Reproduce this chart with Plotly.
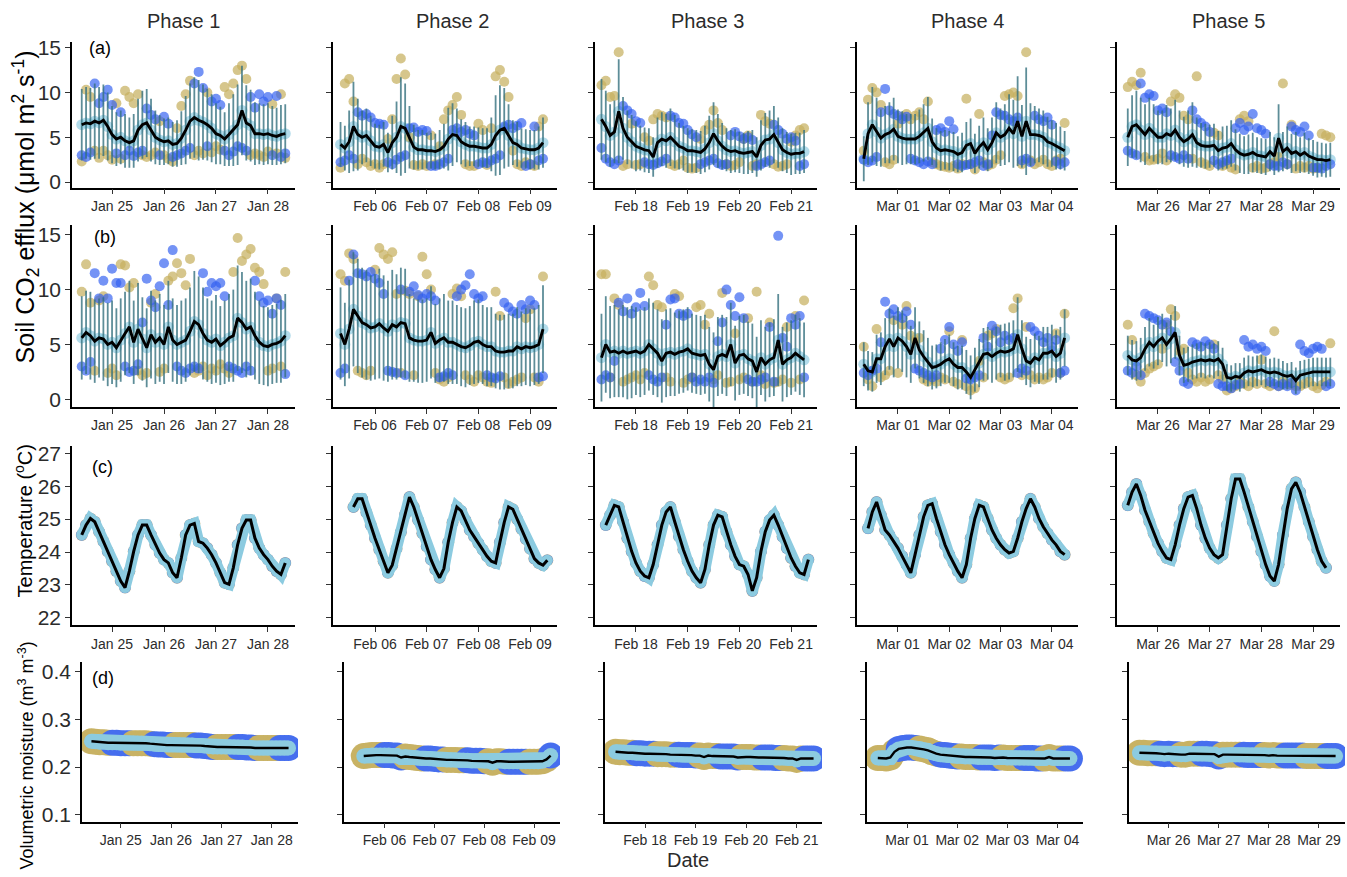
import pandas as pd
import plotly.graph_objects as go

W, H = 1347, 877

PHASE_TITLES = ["Phase 1", "Phase 2", "Phase 3", "Phase 4", "Phase 5"]
PANEL_TAGS = ["(a)", "(b)", "(c)", "(d)"]

# first timestamp of each 2-hourly series, per phase
FLUX_START = ["2019-01-24 10:00", "2019-02-05 08:00", "2019-02-17 08:00",
              "2019-02-28 08:00", "2019-03-25 10:00"]
TEMP_START = ["2019-01-24 10:00", "2019-02-05 14:00", "2019-02-17 10:00",
              "2019-02-28 10:00", "2019-03-25 10:00"]
MOIST_START = ["2019-01-24 10:00", "2019-02-05 14:00", "2019-02-17 10:00",
               "2019-02-28 10:00", "2019-03-25 10:00"]
X_RANGES = [["2019-01-24 05:30", "2019-01-28 12:30"],
            ["2019-02-05 04:30", "2019-02-09 12:30"],
            ["2019-02-17 05:00", "2019-02-21 12:00"],
            ["2019-02-28 04:50", "2019-03-04 12:15"],
            ["2019-03-25 05:00", "2019-03-29 12:30"]]

# ---- (a) soil CO2 efflux, first set of chambers ----
FLUX_A_MEAN = [
    [6.4, 6.6, 6.5, 6.8, 6.6, 6.9, 6.2, 5.3, 4.8, 5.0, 4.6, 4.4, 4.6, 5.8, 6.4, 6.6, 5.8, 5.0, 4.7, 4.5,
     4.6, 4.2, 4.3, 4.9, 5.8, 6.8, 7.2, 6.9, 6.7, 6.4, 6.0, 5.4, 5.2, 4.8, 5.3, 5.8, 6.4, 8.0, 6.6, 6.3,
     5.4, 5.4, 5.3, 5.4, 5.2, 5.1, 5.3, 5.4],
    [4.2, 3.8, 4.5, 6.2, 5.3, 5.0, 5.2, 4.6, 4.0, 3.9, 4.2, 3.3, 4.4, 5.0, 6.2, 6.0, 5.0, 3.9, 3.6, 3.6,
     3.5, 3.5, 3.4, 3.6, 4.0, 4.8, 5.3, 5.2, 4.5, 4.2, 4.0, 4.0, 3.9, 3.8, 3.8, 4.2, 5.2, 5.8, 6.0, 5.2,
     4.4, 4.2, 3.8, 3.7, 3.6, 3.6, 3.8, 4.4],
    [7.0, 6.2, 5.2, 5.6, 7.9, 6.0, 5.0, 4.5, 4.0, 3.8, 3.6, 3.5, 2.8, 4.4, 4.8, 4.6, 5.0, 4.5, 4.0, 3.8,
     3.5, 3.5, 3.4, 3.3, 3.7, 4.4, 5.4, 4.6, 4.0, 3.6, 3.4, 3.5, 3.3, 3.2, 3.3, 3.4, 2.8, 4.1, 4.7, 4.8,
     5.3, 4.4, 3.6, 3.3, 3.1, 3.2, 3.2, 3.4],
    [2.6, 5.4, 6.4, 5.6, 4.9, 5.3, 5.5, 5.9, 5.1, 4.9, 4.8, 4.8, 4.8, 5.1, 5.5, 6.0, 4.5, 3.8, 3.5, 3.6,
     3.5, 3.4, 3.1, 3.3, 4.1, 4.3, 3.2, 3.9, 4.4, 3.6, 4.4, 5.5, 5.0, 5.3, 6.0, 5.4, 6.8, 5.1, 6.8, 5.3,
     5.3, 5.2, 5.0, 4.5, 4.3, 4.0, 3.8, 3.5],
    [5.0, 6.2, 6.4, 5.8, 5.3, 6.0, 5.5, 5.0, 5.0, 5.4, 5.2, 5.8, 5.0, 4.5, 4.8, 5.3, 4.4, 4.1, 4.0, 4.0,
     4.1, 3.5, 3.8, 3.9, 4.3, 3.6, 3.2, 3.0, 3.1, 3.3, 3.0, 2.9, 2.8, 3.4, 2.9, 4.9, 3.4, 3.8, 3.2, 3.4,
     3.0, 3.3, 2.9, 2.7, 2.5, 2.5, 2.4, 2.5],
]
FLUX_A_SD = [
    [4.0, 4.0, 4.0, 4.2, 4.0, 4.0, 3.8, 3.2, 3.0, 3.0, 3.0, 2.8, 3.0, 3.5, 3.8, 3.8, 3.5, 3.0, 2.8, 2.6,
     2.6, 2.5, 2.6, 3.0, 3.8, 4.2, 4.5, 4.5, 4.2, 4.0, 3.8, 3.4, 3.2, 3.0, 3.5, 4.0, 4.5, 5.0, 4.2, 4.0,
     3.5, 3.4, 3.4, 3.4, 3.3, 3.2, 3.3, 3.3],
    [2.5, 2.5, 3.5, 5.0, 4.0, 3.0, 3.0, 2.8, 2.5, 2.5, 2.5, 2.2, 3.0, 4.0, 5.5, 5.0, 3.5, 2.5, 2.2, 2.2,
     2.0, 2.0, 2.0, 2.2, 2.5, 3.5, 3.5, 3.0, 2.5, 2.5, 2.2, 2.2, 2.2, 2.2, 2.2, 3.0, 4.5, 5.0, 4.5, 3.5,
     2.5, 2.5, 2.2, 2.2, 2.2, 2.2, 2.4, 2.8],
    [4.5, 4.0, 3.5, 3.5, 5.8, 3.5, 3.0, 3.0, 2.8, 2.5, 2.5, 2.5, 2.2, 2.8, 3.0, 3.0, 3.2, 3.0, 2.6, 2.5,
     2.5, 2.4, 2.4, 2.4, 2.6, 3.0, 3.5, 3.0, 2.6, 2.4, 2.4, 2.4, 2.3, 2.3, 2.4, 2.4, 2.2, 2.8, 3.0, 3.2,
     3.2, 2.8, 2.4, 2.3, 2.3, 2.3, 2.3, 2.4],
    [2.5, 3.5, 4.2, 3.8, 3.2, 3.2, 3.4, 3.5, 3.0, 3.0, 2.8, 2.8, 2.8, 3.0, 3.2, 3.5, 2.6, 2.2, 2.2, 2.2,
     2.2, 2.2, 2.0, 2.2, 2.6, 2.8, 2.2, 2.4, 2.8, 2.4, 2.8, 3.4, 3.2, 3.4, 3.8, 3.8, 5.0, 3.5, 6.0, 3.5,
     3.2, 3.0, 3.0, 2.8, 2.6, 2.6, 2.4, 2.2],
    [3.2, 3.5, 3.8, 3.6, 3.4, 3.4, 3.2, 3.0, 3.0, 3.2, 3.0, 3.4, 3.0, 2.8, 3.2, 3.6, 2.8, 2.5, 2.5, 2.4,
     2.4, 2.2, 2.4, 2.4, 2.6, 2.3, 2.2, 2.1, 2.2, 2.2, 2.0, 2.0, 2.0, 2.2, 2.1, 3.8, 2.2, 2.4, 2.2, 2.2,
     2.0, 2.2, 2.0, 2.0, 2.0, 1.9, 1.9, 1.9],
]
FLUX_A_BLUE = [
    [3.0, 2.8, 3.3, 11.0, 8.8, 9.5, 10.3, 8.6, 3.2, 7.8, 3.0, 3.5, 2.9, 3.3, 3.5, 8.2, 7.5, 7.0, 3.0, 7.3,
     6.5, 2.8, 3.0, 3.2, 3.5, 3.8, 11.0, 12.3, 10.5, 4.0, 9.0, 9.3, 8.6, 3.5, 3.0, 3.4, 4.0, 3.8, 3.5, 9.5,
     8.3, 9.8, 9.0, 9.5, 3.0, 9.6, 2.8, 3.2],
    [2.2, 2.4, 3.0, 2.6, 7.8, 7.4, 7.6, 7.2, 6.6, 6.5, 6.4, 2.2, 2.0, 2.5, 2.8, 3.0, 6.0, 6.1, 5.6, 5.8,
     5.7, 1.8, 1.8, 2.0, 2.2, 2.6, 5.8, 6.0, 5.6, 5.8, 5.4, 5.2, 2.0, 2.2, 2.1, 2.4, 2.6, 3.0, 6.2, 6.4,
     6.0, 6.3, 6.6, 1.8, 2.0, 6.2, 2.4, 2.6],
    [3.8, 2.6, 2.2, 2.0, 2.4, 8.5, 8.0, 7.6, 6.8, 6.6, 2.2, 2.0, 1.9, 2.1, 2.3, 2.6, 7.4, 7.2, 6.6, 6.5,
     5.8, 5.3, 5.0, 2.0, 2.2, 2.4, 2.6, 2.1, 1.9, 2.0, 5.2, 5.6, 5.1, 4.8, 5.0, 4.7, 1.8, 2.0, 2.2, 2.4,
     6.4, 5.8, 5.4, 4.8, 5.0, 4.6, 1.8, 2.0],
    [2.5, 2.2, 2.4, 2.8, 7.8, 10.4, 8.0, 7.6, 7.4, 7.0, 7.3, 2.6, 2.4, 2.2, 2.0, 2.3, 2.0, 5.8, 6.0, 5.6,
     6.8, 5.9, 2.0, 1.8, 1.9, 2.0, 2.2, 2.4, 1.8, 2.0, 5.2, 7.8, 7.5, 7.4, 7.0, 6.8, 7.2, 2.4, 2.6, 2.2,
     7.4, 7.0, 6.8, 7.2, 6.4, 2.3, 2.0, 2.2],
    [3.5, 3.2, 3.0, 11.0, 9.4, 9.8, 9.6, 8.0, 8.2, 7.8, 3.0, 2.8, 2.6, 3.0, 2.6, 8.0, 7.0, 6.6, 6.2, 5.6,
     2.4, 2.0, 2.2, 2.4, 2.6, 6.0, 6.6, 5.8, 6.2, 7.6, 6.0, 5.8, 5.4, 2.0, 1.8, 1.8, 2.2, 2.0, 6.2, 5.8,
     5.6, 6.2, 5.2, 1.6, 1.6, 1.5, 1.8, 2.0],
]
FLUX_A_TAN = [
    [2.3, 10.3, 9.5, 3.5, 2.7, 3.5, 3.0, 2.5, 8.8, 2.6, 10.2, 9.5, 8.8, 9.8, 3.0, 2.8, 3.0, 3.3, 6.8, 3.0,
     2.6, 2.3, 6.0, 8.5, 9.8, 11.3, 3.0, 3.5, 3.2, 10.0, 3.3, 4.0, 3.6, 10.6, 9.8, 11.0, 12.5, 13.0, 11.5, 3.0,
     3.2, 3.0, 2.8, 3.4, 8.7, 3.2, 9.8, 2.7],
    [1.6, 11.0, 11.5, 9.0, 2.0, 2.6, 2.2, 1.8, 2.0, 1.6, 2.0, 4.8, 7.0, 11.5, 13.8, 12.0, 5.0, 1.9, 1.8, 2.0,
     1.8, 5.2, 2.0, 4.0, 7.0, 8.0, 8.6, 9.5, 7.5, 2.0, 1.8, 1.8, 6.5, 5.8, 1.9, 6.0, 11.8, 12.5, 11.2, 9.5,
     3.5, 2.0, 1.8, 2.2, 2.0, 1.8, 6.2, 7.0],
    [10.8, 11.3, 9.5, 9.6, 14.5, 1.8, 2.0, 6.5, 1.9, 2.0, 5.0, 4.6, 7.0, 7.6, 7.4, 7.2, 2.0, 1.8, 2.0, 2.4,
     1.6, 1.5, 1.6, 4.8, 5.8, 6.4, 8.0, 6.6, 5.8, 2.0, 1.8, 1.9, 2.2, 4.8, 5.2, 1.8, 2.0, 7.5, 6.8, 6.5,
     2.0, 1.7, 1.8, 2.0, 4.5, 5.2, 5.8, 6.0],
    [3.5, 9.2, 10.5, 10.0, 8.6, 2.2, 2.0, 2.5, 6.5, 7.3, 7.6, 7.0, 7.4, 7.8, 7.0, 9.0, 2.2, 2.0, 1.8, 1.7,
     1.6, 1.8, 1.5, 2.0, 9.3, 2.0, 1.4, 7.6, 2.2, 1.8, 2.0, 2.5, 3.0, 9.6, 9.8, 10.0, 9.6, 2.0, 14.5, 2.4,
     2.0, 2.2, 2.5, 2.0, 1.8, 2.4, 2.6, 6.6],
    [10.6, 11.2, 10.8, 12.2, 2.8, 2.4, 2.5, 2.6, 3.2, 2.4, 9.0, 9.8, 9.4, 7.4, 7.0, 2.6, 11.8, 2.2, 2.0, 1.8,
     5.5, 5.2, 1.8, 2.0, 1.6, 1.4, 7.0, 7.4, 6.8, 1.6, 1.8, 1.5, 1.6, 2.0, 2.2, 2.8, 11.0, 2.0, 6.4, 1.5,
     1.8, 1.6, 1.8, 1.5, 1.6, 5.4, 5.2, 5.0],
]

# ---- (b) soil CO2 efflux, second set of chambers ----
FLUX_B_MEAN = [
    [5.6, 6.1, 5.8, 5.3, 5.6, 5.5, 5.0, 5.2, 4.7, 5.4, 6.0, 6.6, 5.2, 6.4, 5.5, 4.7, 5.9, 5.2, 5.6, 5.0,
     6.6, 5.4, 5.0, 5.2, 5.4, 6.2, 7.1, 6.8, 6.0, 5.4, 5.2, 5.5, 4.9, 5.2, 5.6, 5.8, 7.4, 7.0, 6.4, 6.6,
     5.8, 5.2, 4.9, 4.8, 5.0, 5.1, 5.3, 5.8],
    [6.0, 5.0, 6.4, 8.2, 7.6, 7.0, 6.8, 6.5, 6.6, 6.9, 6.5, 6.2, 6.8, 6.6, 7.0, 6.9, 5.6, 5.4, 5.3, 5.3,
     5.4, 6.1, 5.1, 5.4, 5.6, 5.2, 5.2, 5.0, 4.8, 4.7, 4.9, 5.2, 5.3, 5.0, 4.8, 4.8, 4.4, 4.3, 4.3, 4.4,
     4.4, 4.8, 4.6, 4.8, 4.7, 4.8, 5.0, 6.4],
    [3.8, 5.0, 4.3, 4.4, 4.2, 4.4, 4.2, 4.3, 4.4, 4.2, 4.4, 5.0, 4.6, 4.2, 3.5, 4.2, 4.3, 4.1, 4.3, 4.4,
     4.6, 4.2, 4.1, 4.0, 4.1, 3.2, 2.7, 3.9, 4.1, 3.9, 5.0, 3.3, 4.0, 4.1, 3.7, 3.5, 2.5, 3.8, 3.2, 3.6,
     3.8, 5.4, 3.2, 3.6, 3.8, 4.2, 3.9, 3.6],
    [3.2, 2.6, 2.5, 3.7, 3.7, 4.8, 5.5, 4.8, 5.6, 5.3, 4.8, 4.1, 5.6, 4.5, 3.9, 3.4, 2.9, 3.0, 3.2, 3.5,
     3.7, 3.2, 2.9, 2.9, 2.5, 2.0, 2.7, 3.3, 4.1, 4.2, 3.9, 4.2, 4.4, 4.3, 4.4, 4.6, 5.9, 4.6, 3.5, 3.3,
     3.8, 3.6, 4.2, 4.2, 4.4, 3.9, 4.2, 5.6],
    [4.0, 3.6, 3.5, 3.8, 4.6, 5.2, 4.8, 5.3, 5.6, 5.0, 5.5, 6.1, 4.0, 3.1, 3.2, 3.4, 3.5, 3.6, 3.5, 3.6,
     3.5, 3.7, 3.2, 2.0, 1.9, 2.1, 2.0, 2.4, 2.6, 2.5, 2.6, 2.7, 2.5, 2.4, 2.5, 2.4, 2.2, 2.1, 2.2, 1.7,
     2.2, 2.3, 2.4, 2.5, 2.5, 2.5, 2.5, 2.5],
]
FLUX_B_SD = [
    [3.8, 3.8, 4.0, 3.8, 3.6, 3.8, 3.8, 3.8, 3.6, 3.8, 3.8, 4.2, 3.8, 4.2, 3.8, 3.6, 4.0, 3.8, 4.0, 3.6,
     4.2, 3.8, 3.6, 3.8, 3.8, 4.0, 4.6, 4.4, 4.2, 3.8, 3.8, 4.0, 3.6, 3.8, 4.0, 4.2, 4.8, 4.6, 4.4, 4.4,
     4.0, 3.8, 3.6, 3.6, 3.6, 3.6, 3.8, 3.8],
    [4.2, 3.8, 4.5, 5.2, 5.2, 5.0, 5.0, 4.8, 4.8, 5.0, 4.8, 4.6, 5.0, 4.8, 5.0, 5.0, 4.0, 3.8, 3.8, 3.8,
     3.8, 4.2, 3.6, 3.8, 4.0, 3.8, 3.8, 3.6, 3.6, 3.6, 3.6, 3.8, 3.8, 3.6, 3.6, 3.6, 3.4, 3.4, 3.4, 3.4,
     3.4, 3.6, 3.4, 3.5, 3.5, 3.5, 3.6, 4.0],
    [4.0, 4.4, 4.2, 4.2, 4.0, 4.2, 4.2, 4.2, 4.0, 4.0, 4.0, 4.2, 4.2, 4.0, 3.8, 4.0, 4.0, 3.8, 3.8, 3.8,
     3.8, 3.6, 3.6, 3.6, 3.6, 3.4, 3.4, 3.6, 3.6, 3.6, 3.8, 3.4, 3.6, 3.6, 3.4, 3.4, 3.2, 3.4, 3.4, 3.4,
     3.5, 4.2, 3.4, 3.4, 3.4, 3.5, 3.5, 3.4],
    [2.0, 1.8, 1.8, 2.2, 2.4, 2.6, 2.8, 2.8, 2.8, 2.8, 2.8, 2.6, 2.8, 2.6, 2.4, 2.2, 2.0, 2.0, 2.0, 2.0,
     2.2, 2.0, 2.0, 2.0, 2.0, 2.0, 2.0, 2.2, 2.4, 2.4, 2.4, 2.4, 2.4, 2.6, 2.6, 2.6, 3.4, 2.6, 2.2, 2.2,
     2.2, 2.2, 2.4, 2.4, 2.4, 2.4, 2.4, 2.6],
    [1.8, 1.8, 1.8, 1.8, 2.0, 2.2, 2.0, 2.2, 2.2, 2.0, 2.2, 2.4, 1.8, 1.6, 1.6, 1.6, 1.6, 1.6, 1.6, 1.6,
     1.6, 1.6, 1.5, 1.2, 1.2, 1.2, 1.3, 1.4, 1.4, 1.4, 1.4, 1.4, 1.4, 1.3, 1.3, 1.3, 1.3, 1.2, 1.2, 1.2,
     1.3, 1.3, 1.3, 1.3, 1.3, 1.3, 1.3, 1.3],
]
FLUX_B_BLUE = [
    [3.0, 2.6, 3.4, 11.5, 9.2, 10.8, 9.2, 11.9, 10.6, 10.6, 3.0, 2.5, 2.6, 3.2, 7.0, 11.0, 9.0, 8.4, 10.3, 12.4,
     8.6, 13.6, 3.0, 2.6, 2.4, 2.8, 3.0, 2.8, 11.5, 9.8, 10.6, 10.3, 10.6, 9.4, 3.0, 2.8, 2.6, 2.4, 3.0, 2.6,
     10.8, 9.4, 8.8, 9.0, 7.8, 9.2, 8.6, 2.3],
    [2.4, 2.8, 10.8, 13.2, 11.5, 11.4, 11.2, 11.6, 11.0, 10.6, 9.6, 2.6, 2.5, 2.4, 10.0, 2.2, 9.8, 10.3, 9.5, 9.2,
     9.6, 9.4, 9.0, 2.0, 2.1, 2.4, 2.2, 9.4, 10.0, 10.4, 11.4, 9.6, 9.2, 9.4, 2.2, 2.0, 1.9, 2.1, 8.8, 8.4,
     8.0, 7.8, 8.6, 8.2, 9.0, 8.6, 2.0, 2.1],
    [1.8, 2.2, 2.0, 3.5, 8.8, 8.0, 9.2, 7.8, 8.4, 9.7, 8.5, 2.2, 1.8, 1.6, 2.0, 6.8, 9.1, 9.2, 7.8, 7.6,
     7.8, 2.0, 1.6, 1.8, 1.6, 2.0, 1.5, 5.3, 7.0, 10.0, 8.6, 7.6, 9.3, 7.4, 1.8, 1.6, 1.6, 1.8, 2.0, 6.6,
     1.6, 14.9, 5.6, 4.8, 7.4, 6.8, 7.6, 2.0],
    [2.4, 2.2, 2.6, 2.8, 5.2, 8.9, 7.8, 8.2, 7.6, 7.4, 8.0, 6.8, 2.8, 2.6, 2.4, 2.2, 2.0, 2.2, 4.6, 5.4,
     6.6, 5.0, 4.4, 5.2, 1.9, 1.8, 2.0, 2.2, 5.6, 4.8, 6.7, 6.2, 5.2, 5.8, 5.4, 5.6, 2.4, 2.8, 2.6, 6.6,
     6.2, 5.8, 5.2, 5.6, 4.8, 5.4, 2.4, 2.6],
    [2.6, 2.4, 3.0, 2.2, 7.8, 7.6, 7.4, 7.2, 6.8, 7.0, 6.2, 3.4, 2.6, 1.6, 1.4, 5.2, 5.0, 4.8, 5.3, 5.0,
     4.6, 1.4, 1.2, 1.2, 1.0, 1.3, 1.4, 5.4, 4.8, 5.0, 4.6, 4.8, 4.4, 1.6, 1.4, 1.2, 1.4, 1.2, 1.5, 0.8,
     5.0, 4.4, 4.2, 4.6, 4.8, 4.6, 1.2, 1.4],
]
FLUX_B_TAN = [
    [9.8, 12.3, 8.8, 2.6, 9.0, 9.4, 2.4, 2.8, 2.2, 12.3, 12.2, 10.2, 10.6, 2.6, 2.2, 2.4, 8.8, 9.6, 2.5, 2.8,
     10.8, 11.2, 12.4, 11.5, 10.4, 12.8, 2.4, 2.6, 3.0, 2.2, 2.8, 2.6, 3.2, 2.8, 2.4, 11.6, 14.7, 12.6, 13.2, 13.7,
     12.0, 11.6, 10.5, 2.6, 2.8, 9.2, 3.0, 11.6],
    [11.4, 10.8, 13.3, 12.8, 2.6, 2.4, 2.2, 2.6, 11.8, 13.8, 13.2, 12.8, 13.4, 9.6, 2.4, 9.9, 9.6, 2.2, 9.4, 13.0,
     11.4, 10.0, 2.4, 1.8, 1.6, 2.0, 9.6, 10.1, 9.4, 2.2, 1.8, 1.6, 2.2, 2.0, 1.6, 1.5, 9.8, 7.6, 2.0, 1.4,
     1.6, 1.8, 2.0, 7.4, 8.2, 2.0, 1.6, 11.2],
    [11.4, 11.4, 2.0, 9.2, 8.6, 1.6, 1.8, 2.0, 2.2, 1.8, 2.4, 11.2, 10.4, 8.6, 8.4, 2.0, 1.6, 9.6, 9.4, 1.5,
     1.8, 2.0, 8.4, 8.6, 6.8, 7.8, 1.8, 2.2, 9.7, 1.5, 1.6, 6.0, 1.8, 2.0, 7.4, 1.6, 9.8, 2.2, 1.4, 7.0,
     1.5, 1.6, 1.8, 6.6, 1.5, 7.6, 1.8, 9.0],
    [4.8, 1.8, 1.2, 6.4, 2.0, 2.2, 2.6, 7.2, 2.4, 6.8, 8.5, 5.8, 5.4, 5.6, 1.8, 1.6, 1.8, 1.6, 2.0, 1.8,
     6.2, 1.6, 1.4, 5.4, 1.2, 0.8, 1.0, 3.5, 2.0, 5.8, 6.0, 6.4, 2.0, 1.8, 2.0, 8.3, 9.2, 2.2, 6.6, 2.2,
     1.8, 2.0, 1.8, 2.0, 2.4, 6.0, 2.4, 7.8],
    [6.8, 5.4, 2.2, 1.6, 2.4, 2.8, 3.0, 3.2, 4.6, 6.8, 8.2, 7.6, 4.4, 4.6, 2.4, 1.8, 1.6, 2.0, 1.6, 1.8,
     5.0, 2.2, 1.8, 0.8, 1.0, 1.2, 1.6, 1.4, 1.2, 1.6, 1.4, 3.6, 1.4, 1.2, 6.2, 1.2, 1.6, 1.4, 1.3, 1.2,
     1.2, 1.4, 1.6, 1.2, 1.0, 1.3, 1.6, 5.1],
]

# ---- (c) soil temperature, degC ----
TEMP = [
    [24.52, 24.82, 25.02, 24.92, 24.62, 24.32, 24.02, 23.72, 23.42, 23.12, 22.92, 23.42, 24.02, 24.52, 24.82,
     24.82, 24.52, 24.22, 23.97, 23.77, 23.67, 23.37, 23.22, 23.82, 24.52, 24.82, 24.87, 24.32, 24.27, 24.12,
     23.92, 23.67, 23.37, 23.07, 23.02, 23.52, 24.22, 24.72, 24.97, 24.97, 24.42, 24.12, 23.92, 23.77, 23.57,
     23.42, 23.32, 23.67],
    [25.37, 25.62, 25.62, 25.2, 24.82, 24.42, 24.07, 23.72, 23.37, 23.6, 24.1, 24.6, 25.15, 25.67, 25.37,
     24.97, 24.57, 24.17, 23.77, 23.47, 23.22, 23.5, 24.3, 24.9, 25.37, 25.25, 24.97, 24.67, 24.47, 24.27,
     24.07, 23.87, 23.72, 23.67, 24.3, 24.9, 25.37, 25.3, 25.0, 24.7, 24.4, 24.1, 23.8, 23.67, 23.6, 23.75],
    [24.82, 25.12, 25.42, 25.37, 24.92, 24.42, 24.02, 23.67, 23.42, 23.27, 23.22, 23.62, 24.22, 24.82, 25.22,
     25.37, 24.92, 24.47, 24.07, 23.72, 23.42, 23.22, 23.07, 23.47, 24.22, 24.82, 25.12, 25.07, 24.62, 24.22,
     23.87, 23.62, 23.57, 23.32, 22.82, 23.22, 24.02, 24.62, 24.97, 25.12, 24.82, 24.47, 24.12, 23.82, 23.57,
     23.37, 23.32, 23.77],
    [24.72, 25.22, 25.52, 25.12, 24.67, 24.52, 24.32, 24.12, 23.87, 23.62, 23.37, 23.92, 24.52, 25.07, 25.42,
     25.47, 25.02, 24.62, 24.22, 23.92, 23.67, 23.42, 23.22, 23.62, 24.42, 25.02, 25.42, 25.37, 25.02, 24.67,
     24.42, 24.22, 24.07, 23.97, 24.02, 24.42, 24.92, 25.32, 25.62, 25.37, 25.02, 24.77, 24.57, 24.37, 24.22,
     24.02, 23.92],
    [25.42, 25.82, 26.07, 25.72, 25.27, 24.92, 24.57, 24.27, 24.02, 23.82, 23.77, 24.22, 24.82, 25.32, 25.67,
     25.72, 25.32, 24.82, 24.42, 24.12, 23.92, 23.82, 23.92, 24.82, 25.62, 26.22, 26.22, 25.82, 25.37, 24.92,
     24.47, 24.02, 23.62, 23.27, 23.12, 23.62, 24.52, 25.32, 25.92, 26.12, 25.82, 25.37, 24.92, 24.47, 24.07,
     23.72, 23.52],
]

# ---- (d) volumetric soil moisture, m3 m-3 ----
MOIST = [
    [0.254, 0.253, 0.252, 0.252, 0.251, 0.251, 0.251, 0.250, 0.250, 0.250, 0.250, 0.250, 0.250, 0.250, 0.249,
     0.248, 0.247, 0.247, 0.246, 0.246, 0.246, 0.246, 0.246, 0.246, 0.246, 0.245, 0.245, 0.244, 0.243, 0.242,
     0.242, 0.242, 0.242, 0.242, 0.242, 0.242, 0.242, 0.241, 0.241, 0.240, 0.240, 0.240, 0.240, 0.240, 0.240,
     0.240, 0.240, 0.240],
    [0.223, 0.224, 0.225, 0.225, 0.225, 0.225, 0.225, 0.224, 0.224, 0.220, 0.222, 0.221, 0.220, 0.219, 0.218,
     0.218, 0.218, 0.217, 0.216, 0.216, 0.215, 0.215, 0.215, 0.214, 0.214, 0.214, 0.213, 0.213, 0.213, 0.212,
     0.212, 0.209, 0.212, 0.212, 0.211, 0.211, 0.211, 0.211, 0.211, 0.211, 0.211, 0.211, 0.211, 0.212, 0.216,
     0.224],
    [0.232, 0.231, 0.231, 0.230, 0.230, 0.229, 0.229, 0.228, 0.228, 0.228, 0.227, 0.227, 0.227, 0.226, 0.226,
     0.226, 0.225, 0.225, 0.225, 0.224, 0.224, 0.221, 0.224, 0.223, 0.223, 0.222, 0.222, 0.222, 0.222, 0.220,
     0.221, 0.221, 0.221, 0.220, 0.220, 0.220, 0.220, 0.220, 0.219, 0.219, 0.219, 0.218, 0.218, 0.215, 0.218,
     0.218, 0.218, 0.218],
    [0.219, 0.219, 0.218, 0.220, 0.232, 0.238, 0.240, 0.241, 0.241, 0.240, 0.239, 0.237, 0.235, 0.231, 0.228,
     0.226, 0.225, 0.224, 0.223, 0.222, 0.222, 0.221, 0.221, 0.221, 0.220, 0.220, 0.220, 0.220, 0.219, 0.220,
     0.220, 0.219, 0.219, 0.219, 0.219, 0.219, 0.219, 0.219, 0.218, 0.218, 0.218, 0.221, 0.218, 0.218, 0.218,
     0.218, 0.218],
    [0.230, 0.230, 0.229, 0.229, 0.229, 0.228, 0.227, 0.228, 0.227, 0.227, 0.226, 0.226, 0.228, 0.228, 0.228,
     0.228, 0.228, 0.227, 0.227, 0.222, 0.226, 0.226, 0.226, 0.226, 0.226, 0.226, 0.225, 0.225, 0.225, 0.225,
     0.225, 0.224, 0.225, 0.224, 0.224, 0.224, 0.224, 0.224, 0.224, 0.224, 0.223, 0.223, 0.223, 0.223, 0.223,
     0.223, 0.223, 0.223],
]
MOIST_SPREAD = 0.014

# ---- styling ----
BLUE = "rgba(50, 96, 240, 0.68)"
TAN = "rgba(198, 176, 96, 0.72)"
LIGHT = "rgba(132, 198, 222, 0.62)"
LIGHT_SOLID = "rgb(140, 203, 224)"
BAR = "rgba(52, 112, 126, 0.8)"
FONT = "Liberation Sans, Arial, sans-serif"
INK = "#2b2b2b"

COL_PX = [(72, 295), (333, 557), (595, 817), (857, 1078), (1117, 1340)]
COL_PX_D = [(82, 298), (344, 560), (605, 822), (867, 1083), (1129, 1345)]
ROW_PX = [(37, 185), (223, 407), (447, 628), (665, 827)]
Y_RANGES = [(-0.63, 15.69), (-0.69, 15.87), (21.78, 27.21), (0.0855, 0.421)]
Y_TICKS = [[0, 5, 10, 15], [0, 5, 10, 15], [22, 23, 24, 25, 26, 27], [0.1, 0.2, 0.3, 0.4]]
Y_TEXT = [["0", "5", "10", "15"], ["0", "5", "10", "15"],
          ["22", "23", "24", "25", "26", "27"], ["0.1", "0.2", "0.3", "0.4"]]


def times(start, n):
    return pd.date_range(start, periods=n, freq="2h")


fig = go.Figure()
layout = {}


def axis_ids(r, c):
    i = r * 5 + c + 1
    s = "" if i == 1 else str(i)
    return i, "x" + s, "y" + s, "xaxis" + s, "yaxis" + s


def add_flux(r, c, mean, sd, blue, tan, start):
    _, xr, yr, _, _ = axis_ids(r, c)
    n = min(len(mean), len(sd))
    t = times(start, n)
    fig.add_trace(go.Scatter(x=t, y=mean[:n], mode="markers", xaxis=xr, yaxis=yr,
                             marker=dict(size=11, color=LIGHT, line=dict(width=0))))
    tb = times(start, len(tan))
    fig.add_trace(go.Scatter(x=tb, y=tan, mode="markers", xaxis=xr, yaxis=yr,
                             marker=dict(size=10, color=TAN, line=dict(width=0))))
    tb = times(start, len(blue))
    fig.add_trace(go.Scatter(x=tb, y=blue, mode="markers", xaxis=xr, yaxis=yr,
                             marker=dict(size=10, color=BLUE, line=dict(width=0))))
    fig.add_trace(go.Scatter(x=t, y=mean[:n], mode="markers", xaxis=xr, yaxis=yr,
                             marker=dict(size=1, color="rgba(0,0,0,0)"),
                             error_y=dict(type="data", array=sd[:n], visible=True,
                                          color=BAR, thickness=1.8, width=0)))
    fig.add_trace(go.Scatter(x=t, y=mean[:n], mode="lines", xaxis=xr, yaxis=yr,
                             line=dict(color="black", width=2.9)))


def add_temp(c, vals, start):
    _, xr, yr, _, _ = axis_ids(2, c)
    t = times(start, len(vals))
    fig.add_trace(go.Scatter(x=t, y=vals, mode="markers", xaxis=xr, yaxis=yr,
                             marker=dict(size=12, color=TAN, line=dict(width=0))))
    fig.add_trace(go.Scatter(x=t, y=vals, mode="markers", xaxis=xr, yaxis=yr,
                             marker=dict(size=11.5, color=BLUE, line=dict(width=0))))
    fig.add_trace(go.Scatter(x=t, y=vals, mode="lines+markers", xaxis=xr, yaxis=yr,
                             line=dict(color=LIGHT_SOLID, width=11),
                             marker=dict(size=11, color=LIGHT_SOLID, line=dict(width=0))))
    fig.add_trace(go.Scatter(x=t, y=vals, mode="lines", xaxis=xr, yaxis=yr,
                             line=dict(color="black", width=3)))


def add_moist(c, vals, start):
    _, xr, yr, _, _ = axis_ids(3, c)
    t = times(start, len(vals))
    # the two treatments overlap along the series, shown as alternating runs
    ring = ["rgb(200,178,100)" if (k // 5) % 2 == 0 else "rgb(70,110,238)" for k in range(len(vals))]
    fig.add_trace(go.Scatter(x=t, y=vals, mode="markers", xaxis=xr, yaxis=yr,
                             marker=dict(size=26, color=ring, line=dict(width=0))))
    fig.add_trace(go.Scatter(x=t, y=vals, mode="lines+markers", xaxis=xr, yaxis=yr,
                             line=dict(color=LIGHT_SOLID, width=15),
                             marker=dict(size=15, color=LIGHT_SOLID, line=dict(width=0)),
                             error_y=dict(type="constant", value=MOIST_SPREAD, visible=True,
                                          color=BAR, thickness=1, width=0)))
    fig.add_trace(go.Scatter(x=t, y=vals, mode="lines", xaxis=xr, yaxis=yr,
                             line=dict(color="black", width=2.4)))


for c in range(5):
    add_flux(0, c, FLUX_A_MEAN[c], FLUX_A_SD[c], FLUX_A_BLUE[c], FLUX_A_TAN[c], FLUX_START[c])
    add_flux(1, c, FLUX_B_MEAN[c], FLUX_B_SD[c], FLUX_B_BLUE[c], FLUX_B_TAN[c], FLUX_START[c])
    add_temp(c, TEMP[c], TEMP_START[c])
    add_moist(c, MOIST[c], MOIST_START[c])

for r in range(4):
    y0, y1 = ROW_PX[r]
    for c in range(5):
        i, xr, yr, xk, yk = axis_ids(r, c)
        x0, x1 = (COL_PX_D if r == 3 else COL_PX)[c]
        layout[xk] = dict(
            domain=[x0 / W, x1 / W], range=X_RANGES[c], type="date", anchor=yr,
            showline=True, linecolor="black", linewidth=1.6, mirror=False,
            ticks="outside", ticklen=5, tickwidth=1.2, tickcolor="#333",
            tickformat="%b %d", dtick=86400000, tick0="2019-01-01",
            tickfont=dict(family=FONT, size=14, color=INK),
            showgrid=False, zeroline=False)
        layout[yk] = dict(
            domain=[1 - y1 / H, 1 - y0 / H], range=list(Y_RANGES[r]), anchor=xr,
            showline=True, linecolor="black", linewidth=1.6,
            ticks="outside", ticklen=5, tickwidth=1.2, tickcolor="#333",
            tickmode="array", tickvals=Y_TICKS[r], ticktext=Y_TEXT[r],
            showticklabels=(c == 0),
            tickfont=dict(family=FONT, size=21, color=INK),
            showgrid=False, zeroline=False)


def label(text, px, py, size, color="black", angle=0):
    return dict(text=text, x=px / W, y=1 - py / H, xref="paper", yref="paper",
                xanchor="center", yanchor="middle", textangle=angle,
                showarrow=False, font=dict(family=FONT, size=size, color=color))


ann = []
PHASE_X = [183, 452, 707, 967, 1228]
for c, title in enumerate(PHASE_TITLES):
    ann.append(label(title, PHASE_X[c], 16, 20, INK))
TAG_POS = [(100, 44), (105, 235), (102, 468), (103, 682)]
for tag, (tx, ty) in zip(PANEL_TAGS, TAG_POS):
    ann.append(label(tag, tx, ty, 18))
ann.append(label("Soil CO<sub>2</sub> efflux (\u03bcmol m<sup>2</sup> s<sup>-1</sup>)",
                 26, 205, 25, angle=-90))
ann.append(label("Temperature (<sup>o</sup>C)", 23, 523, 20, angle=-90))
ann.append(label("Volumetric moisture (m<sup>3</sup> m<sup>-3</sup>)", 26, 760, 18, angle=-90))
ann.append(label("Date", 688, 866, 20, INK))

fig.update_layout(width=W, height=H, margin=dict(l=0, r=0, t=0, b=0),
                  paper_bgcolor="white", plot_bgcolor="white", showlegend=False,
                  annotations=ann, **layout)

fig.write_html("out.html")
